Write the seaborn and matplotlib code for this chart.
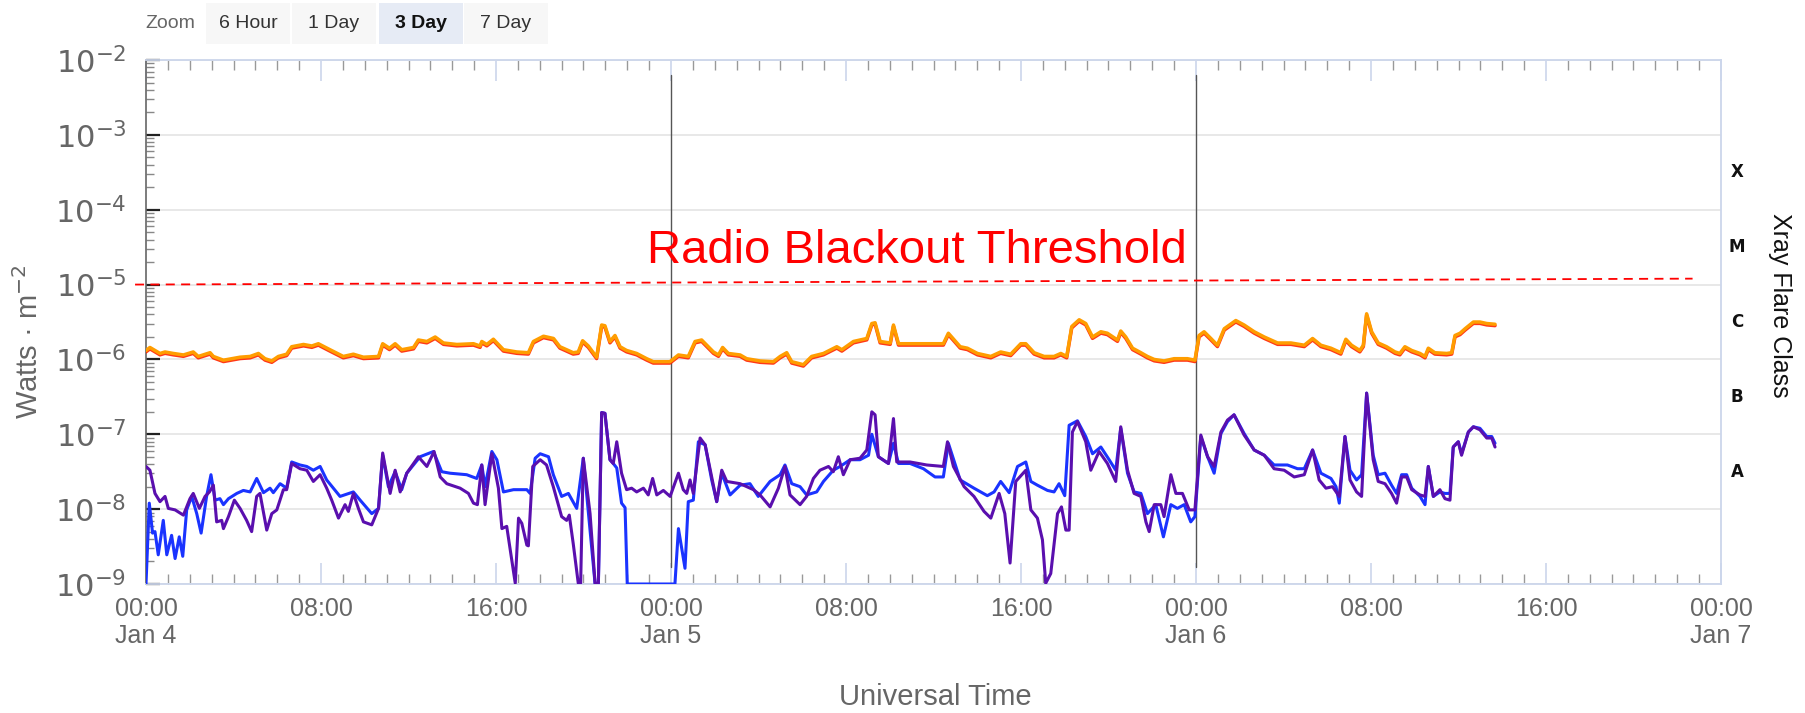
import numpy as np
import pandas as pd
import matplotlib
matplotlib.use("Agg")
import matplotlib.pyplot as plt
import matplotlib.dates as mdates
import matplotlib.ticker as mticker
import matplotlib.patheffects as pe
import matplotlib.transforms as mtransforms
from matplotlib.patches import Rectangle
import seaborn as sns

# ---------------- data (hours after Jan 4 00:00 UT, log10 of W/m^2) ----------------
START = pd.Timestamp("2024-01-04 00:00")

long_hours = [0.00, 0.18, 0.64, 0.87, 1.25, 1.71, 2.16, 2.39, 2.93, 3.08, 3.54, 4.30, 4.76, 5.14, 5.44, 5.75,
              6.05, 6.43, 6.66, 7.20, 7.58, 7.88, 8.41, 9.02, 9.48, 9.94, 10.63, 10.82, 11.13, 11.39, 11.69,
              12.23, 12.45, 12.84, 13.22, 13.60, 14.21, 14.97, 15.27, 15.35, 15.58, 15.88, 16.34, 16.95, 17.48,
              17.71, 18.17, 18.63, 18.92, 19.53, 19.76, 19.96, 20.22, 20.60, 20.83, 20.98, 21.21, 21.44, 21.67,
              21.97, 22.43, 22.89, 23.19, 23.95, 24.34, 24.79, 25.10, 25.40, 25.94, 26.17, 26.36, 26.62, 27.16,
              27.46, 28.07, 28.68, 28.99, 29.29, 29.52, 30.05, 30.43, 30.97, 31.58, 31.81, 32.34, 32.95, 33.18,
              33.33, 33.56, 34.02, 34.17, 34.40, 35.54, 36.45, 36.68, 37.22, 37.55, 38.01, 38.62, 39.07, 39.53,
              39.99, 40.22, 40.60, 41.06, 41.51, 41.82, 42.09, 42.32, 42.66, 42.96, 43.27, 43.65, 43.95, 44.41,
              44.56, 44.79, 45.10, 45.48, 45.78, 46.09, 46.54, 47.00, 47.61, 47.95, 48.14, 48.37, 48.68, 48.98,
              49.29, 49.82, 50.20, 50.66, 51.12, 51.73, 52.34, 52.95, 53.33, 53.71, 54.17, 54.62, 54.85, 55.11,
              55.49, 55.65, 55.80, 56.03, 56.33, 56.71, 57.10, 57.32, 57.55, 57.86, 58.24, 58.47, 58.62, 58.92,
              59.46, 59.69, 59.84, 60.07, 60.30, 60.68, 60.98, 61.29, 61.67]
long_log10 = [-5.88, -5.84, -5.92, -5.90, -5.92, -5.94, -5.90, -5.96, -5.91, -5.96, -6.01, -5.97, -5.96, -5.92,
              -5.99, -6.02, -5.96, -5.93, -5.83, -5.80, -5.82, -5.79, -5.87, -5.96, -5.93, -5.97, -5.96, -5.79,
              -5.85, -5.79, -5.87, -5.84, -5.74, -5.76, -5.70, -5.78, -5.80, -5.79, -5.82, -5.76, -5.80, -5.73,
              -5.87, -5.90, -5.91, -5.76, -5.69, -5.72, -5.83, -5.91, -5.90, -5.75, -5.82, -5.97, -5.54, -5.55,
              -5.76, -5.68, -5.83, -5.88, -5.92, -5.99, -6.03, -6.03, -5.94, -5.96, -5.76, -5.74, -5.90, -5.94,
              -5.84, -5.92, -5.94, -5.99, -6.02, -6.03, -5.96, -5.91, -6.03, -6.07, -5.96, -5.92, -5.83, -5.87,
              -5.76, -5.72, -5.52, -5.51, -5.76, -5.78, -5.54, -5.79, -5.79, -5.79, -5.65, -5.83, -5.85, -5.92,
              -5.96, -5.90, -5.93, -5.79, -5.79, -5.91, -5.96, -5.96, -5.92, -5.96, -5.56, -5.47, -5.52, -5.70,
              -5.63, -5.65, -5.74, -5.62, -5.70, -5.85, -5.91, -5.96, -6.00, -6.02, -5.99, -5.99, -6.01, -5.68,
              -5.63, -5.72, -5.81, -5.59, -5.48, -5.54, -5.63, -5.70, -5.78, -5.78, -5.81, -5.72, -5.81, -5.85,
              -5.91, -5.73, -5.81, -5.88, -5.81, -5.39, -5.63, -5.78, -5.83, -5.90, -5.92, -5.83, -5.88, -5.92,
              -5.96, -5.85, -5.91, -5.92, -5.91, -5.68, -5.65, -5.59, -5.50, -5.50, -5.52, -5.53]

short_a_hours = [0.00, 0.15, 0.30, 0.41, 0.56, 0.79, 0.95, 1.17, 1.33, 1.52, 1.68, 1.86, 2.09, 2.32, 2.52, 2.77,
                 2.97, 3.16, 3.38, 3.54, 3.77, 4.15, 4.45, 4.76, 5.06, 5.37, 5.67, 5.82, 6.13, 6.43, 6.66, 7.04,
                 7.35, 7.65, 7.96, 8.26, 8.87, 9.48, 9.79, 10.32, 10.63, 10.82, 11.08, 11.39, 11.69, 11.92, 12.53,
                 13.14, 13.52, 13.90, 14.66, 15.12, 15.35, 15.50, 15.81, 16.04, 16.34, 16.80, 17.41, 17.56, 17.79,
                 18.02, 18.40, 18.62, 19.00, 19.31, 19.69, 19.99, 20.53, 20.68, 20.83, 20.98, 21.21, 21.36, 21.52,
                 21.74, 21.90, 22.00, 24.18, 24.34, 24.64, 24.79, 25.02, 25.25, 25.56, 25.86, 26.09, 26.32, 26.70,
                 27.16, 27.61, 27.99, 28.53, 28.99, 29.21, 29.52, 29.90, 30.20, 30.66, 30.97, 31.42, 31.73, 32.19,
                 32.64, 33.03, 33.18, 33.48, 33.94, 34.17, 34.40, 34.93, 35.54, 36.07, 36.45, 36.68, 37.22, 37.85,
                 38.46, 38.77, 39.07, 39.46, 39.84, 40.22, 40.45, 40.75, 41.21, 41.51, 41.74, 42.00, 42.20, 42.58,
                 42.96, 43.27, 43.65, 44.03, 44.33, 44.56, 44.87, 45.17, 45.48, 45.78, 46.16, 46.51, 46.85, 47.15,
                 47.46, 47.76, 47.95, 48.22, 48.53, 48.83, 49.14, 49.44, 49.74, 50.20, 50.66, 51.12, 51.57, 52.18,
                 52.64, 52.95, 53.33, 53.71, 54.17, 54.40, 54.55, 54.81, 55.04, 55.34, 55.57, 55.80, 56.10, 56.33,
                 56.64, 56.94, 57.17, 57.40, 57.63, 57.86, 58.24, 58.47, 58.62, 58.85, 59.15, 59.38, 59.61, 59.76,
                 59.99, 60.14, 60.45, 60.68, 60.98, 61.29, 61.52, 61.67]
short_a_log10 = [-9.00, -7.92, -8.32, -8.30, -8.61, -8.15, -8.61, -8.35, -8.66, -8.37, -8.63, -8.01, -7.83, -8.06,
                 -8.32, -7.83, -7.54, -7.88, -7.86, -7.94, -7.86, -7.79, -7.75, -7.77, -7.59, -7.78, -7.72, -7.78,
                 -7.66, -7.72, -7.37, -7.41, -7.43, -7.48, -7.43, -7.61, -7.83, -7.77, -7.88, -8.06, -7.99, -7.28,
                 -7.70, -7.50, -7.74, -7.52, -7.30, -7.23, -7.50, -7.52, -7.54, -7.59, -7.41, -7.70, -7.23, -7.34,
                 -7.77, -7.74, -7.74, -7.79, -7.32, -7.26, -7.30, -7.54, -7.83, -7.79, -7.99, -7.32, -9.00, -9.00,
                 -6.71, -6.72, -7.34, -7.39, -7.45, -7.92, -7.98, -9.00, -9.00, -8.26, -8.79, -7.90, -7.88, -7.10,
                 -7.14, -7.61, -7.90, -7.52, -7.81, -7.68, -7.66, -7.83, -7.63, -7.54, -7.41, -7.66, -7.70, -7.81,
                 -7.77, -7.63, -7.48, -7.43, -7.34, -7.34, -7.28, -7.00, -7.30, -7.39, -7.12, -7.39, -7.39, -7.46,
                 -7.57, -7.57, -7.12, -7.61, -7.72, -7.82, -7.77, -7.63, -7.78, -7.43, -7.37, -7.63, -7.68, -7.75,
                 -7.77, -7.66, -7.82, -6.88, -6.82, -7.03, -7.26, -7.17, -7.34, -7.48, -6.92, -7.52, -7.77, -7.79,
                 -8.06, -7.94, -8.37, -7.94, -7.99, -7.94, -8.17, -8.10, -7.03, -7.30, -7.52, -6.99, -6.83, -6.74,
                 -6.99, -7.21, -7.28, -7.41, -7.41, -7.46, -7.46, -7.21, -7.52, -7.59, -7.70, -7.92, -7.03, -7.48,
                 -7.61, -7.54, -6.45, -7.28, -7.54, -7.52, -7.68, -7.79, -7.54, -7.54, -7.72, -7.83, -7.94, -7.43,
                 -7.83, -7.77, -7.79, -7.79, -7.17, -7.10, -7.26, -6.97, -6.90, -6.92, -7.03, -7.03, -7.12]

short_b_hours = [0.00, 0.18, 0.41, 0.64, 0.87, 1.02, 1.33, 1.71, 2.01, 2.16, 2.44, 2.70, 2.90, 3.08, 3.23, 3.46,
                 3.54, 3.77, 4.04, 4.30, 4.60, 4.83, 5.06, 5.21, 5.52, 5.75, 5.98, 6.28, 6.43, 6.66, 7.04, 7.35,
                 7.65, 7.96, 8.26, 8.49, 8.80, 9.10, 9.25, 9.48, 9.71, 9.94, 10.32, 10.63, 10.82, 11.16, 11.39,
                 11.62, 11.92, 12.45, 12.84, 13.17, 13.45, 13.75, 14.36, 14.74, 14.97, 15.15, 15.35, 15.50, 15.81,
                 16.11, 16.27, 16.49, 16.88, 17.03, 17.18, 17.41, 17.48, 17.68, 18.02, 18.31, 18.62, 19.00, 19.23,
                 19.35, 19.53, 19.76, 19.87, 19.99, 20.30, 20.53, 20.68, 20.83, 20.98, 21.21, 21.36, 21.52, 21.74,
                 21.97, 22.20, 22.43, 22.74, 22.96, 23.16, 23.35, 23.65, 23.96, 24.34, 24.56, 24.72, 24.87, 25.02,
                 25.33, 25.56, 25.86, 26.09, 26.32, 26.55, 27.16, 27.77, 28.07, 28.53, 28.91, 29.21, 29.44, 29.90,
                 30.20, 30.51, 30.81, 31.20, 31.42, 31.65, 31.88, 32.19, 32.64, 32.95, 33.18, 33.33, 33.48, 33.94,
                 34.17, 34.32, 34.93, 35.69, 36.45, 36.64, 36.91, 37.40, 37.85, 38.31, 38.62, 39.00, 39.26, 39.50,
                 39.76, 40.22, 40.45, 40.75, 40.98, 41.13, 41.36, 41.67, 41.85, 42.05, 42.20, 42.35, 42.58, 42.96,
                 43.19, 43.57, 43.95, 44.33, 44.56, 44.87, 45.17, 45.48, 45.71, 45.86, 46.09, 46.39, 46.54, 46.85,
                 47.08, 47.38, 47.69, 47.95, 48.22, 48.53, 48.83, 49.14, 49.44, 49.74, 50.20, 50.66, 51.12, 51.57,
                 52.03, 52.49, 52.95, 53.33, 53.63, 53.94, 54.24, 54.55, 54.81, 55.04, 55.34, 55.57, 55.80, 56.10,
                 56.33, 56.64, 56.94, 57.17, 57.40, 57.63, 57.86, 58.24, 58.47, 58.62, 58.85, 59.15, 59.38, 59.61,
                 59.76, 59.99, 60.14, 60.45, 60.68, 60.98, 61.29, 61.52, 61.67]
short_b_log10 = [-7.43, -7.48, -7.79, -7.90, -7.83, -7.99, -8.01, -8.08, -7.86, -7.79, -7.99, -7.83, -7.77, -7.68,
                 -8.17, -8.15, -8.26, -8.10, -7.88, -7.99, -8.15, -8.30, -7.83, -7.79, -8.28, -8.06, -8.01, -7.74,
                 -7.74, -7.39, -7.46, -7.48, -7.63, -7.54, -7.72, -7.88, -8.12, -7.94, -8.03, -7.79, -7.99, -8.17,
                 -8.21, -7.99, -7.25, -7.79, -7.48, -7.77, -7.52, -7.30, -7.43, -7.23, -7.57, -7.66, -7.72, -7.79,
                 -7.92, -7.94, -7.41, -7.94, -7.26, -7.72, -8.26, -8.23, -8.99, -8.12, -8.19, -8.48, -8.49, -7.43,
                 -7.34, -7.41, -7.70, -8.10, -8.15, -8.08, -8.46, -8.99, -8.99, -7.32, -8.06, -8.99, -8.99, -6.71,
                 -6.72, -7.34, -7.39, -7.10, -7.52, -7.74, -7.72, -7.77, -7.72, -7.81, -7.59, -7.81, -7.75, -7.83,
                 -7.52, -7.74, -7.79, -7.61, -7.79, -7.05, -7.14, -7.57, -7.90, -7.48, -7.63, -7.66, -7.74, -7.81,
                 -7.97, -7.72, -7.43, -7.81, -7.94, -7.83, -7.59, -7.48, -7.43, -7.50, -7.30, -7.54, -7.34, -7.32,
                 -7.21, -6.70, -6.74, -7.30, -7.39, -6.79, -7.37, -7.37, -7.41, -7.43, -7.10, -7.43, -7.70, -7.83,
                 -8.03, -8.12, -7.79, -8.06, -8.72, -7.63, -7.48, -8.01, -8.12, -8.41, -8.99, -8.86, -8.06, -7.97,
                 -8.28, -8.28, -6.97, -6.83, -7.10, -7.48, -7.23, -7.39, -7.63, -6.90, -7.48, -7.79, -7.83, -8.17,
                 -8.30, -7.94, -7.94, -8.10, -7.54, -7.79, -7.79, -8.01, -8.01, -7.01, -7.30, -7.43, -6.97, -6.81,
                 -6.74, -7.01, -7.21, -7.28, -7.46, -7.48, -7.57, -7.54, -7.21, -7.61, -7.72, -7.70, -7.83, -7.03,
                 -7.61, -7.77, -7.83, -6.45, -7.34, -7.63, -7.66, -7.79, -7.92, -7.57, -7.57, -7.74, -7.81, -7.83,
                 -7.43, -7.83, -7.74, -7.86, -7.88, -7.17, -7.10, -7.28, -6.97, -6.90, -6.94, -7.05, -7.05, -7.17]

threshold_flux = [1.0e-5, 1.2e-5]           # dashed line (left end, right end)
threshold_hours = [-0.5, 70.7]
threshold_label = "Radio Blackout Threshold"
day_marker_hours = [24, 48]
flare_classes = ["X", "M", "C", "B", "A"]
flare_class_log10 = [-3.5, -4.5, -5.5, -6.5, -7.5]
zoom_buttons = ["6 Hour", "1 Day", "3 Day", "7 Day"]
zoom_selected = "3 Day"


def to_time(hours):
    return START + pd.to_timedelta(np.asarray(hours, dtype=float), unit="h")


df_long = pd.DataFrame({"time": to_time(long_hours), "flux": 10 ** np.array(long_log10)})
df_a = pd.DataFrame({"time": to_time(short_a_hours), "flux": 10 ** np.array(short_a_log10)})
df_b = pd.DataFrame({"time": to_time(short_b_hours), "flux": 10 ** np.array(short_b_log10)})

# ---------------- style ----------------
sns.set_theme(style="white")
plt.rcParams["font.family"] = ["DejaVu Sans"]
SANS = ["Liberation Sans", "DejaVu Sans"]
GRAY = "#666666"

W, H = 1806, 713
fig = plt.figure(figsize=(W / 100, H / 100), dpi=100)
fig.patch.set_facecolor("white")
L_PX, R_PX, T_PX, B_PX = 146, 1721, 60, 584
ax = fig.add_axes([L_PX / W, 1 - B_PX / H, (R_PX - L_PX) / W, (B_PX - T_PX) / H])
ax.set_facecolor("white")

# ---------------- series ----------------
sns.lineplot(data=df_long, x="time", y="flux", ax=ax, color="#ff9d00", linewidth=2.5,
             estimator=None, sort=False, zorder=4,
             path_effects=[pe.SimpleLineShadow(offset=(0, -1.0), shadow_color="#ff2200", alpha=0.9),
                           pe.Normal()])
sns.lineplot(data=df_a, x="time", y="flux", ax=ax, color="#1a33ff", linewidth=2.2,
             estimator=None, sort=False, zorder=4)
sns.lineplot(data=df_b, x="time", y="flux", ax=ax, color="#5a0fae", linewidth=2.2,
             estimator=None, sort=False, zorder=5)

ax.set_yscale("log")
ax.set_ylim(1e-9, 1e-2)
ax.set_xlim(START, START + pd.Timedelta(days=3))

# day separators
for h in day_marker_hours:
    ax.axvline(to_time([h])[0], ymin=0.032, ymax=0.971, color="#555555", lw=1.0, zorder=3)

# threshold
ax.plot(to_time(threshold_hours), threshold_flux, color="#ff0000", lw=1.3,
        ls=(0, (5, 3.5)), clip_on=False, zorder=6)
ax.text(to_time([22.9])[0], 1.94e-5, threshold_label, color="#ff0000", fontsize=34,
        family=SANS, va="baseline", ha="left", zorder=7)

# ---------------- axes styling ----------------
ax.yaxis.set_major_locator(mticker.LogLocator(base=10, numticks=12))
ax.yaxis.set_minor_locator(mticker.LogLocator(base=10, subs=np.arange(2, 10), numticks=12))
ax.yaxis.set_minor_formatter(mticker.NullFormatter())
ax.yaxis.grid(True, which="major", color="#e6e6e6", lw=1.3)
ax.xaxis.grid(False)
ax.tick_params(axis="y", which="major", direction="in", length=10, width=1.6, color="#222222",
               labelsize=22, labelcolor=GRAY, pad=14, left=True, right=False)
ax.tick_params(axis="y", which="minor", direction="in", length=6, width=1.0, color="#888888",
               left=True, right=False)

ax.xaxis.set_major_locator(mdates.HourLocator(byhour=[0, 8, 16]))
ax.xaxis.set_minor_locator(mdates.HourLocator())


def fmt_time(x, pos):
    d = mdates.num2date(x)
    s = d.strftime("%H:%M")
    if d.hour == 0:
        s += "\n" + d.strftime("%b") + " " + str(d.day)
    return s


ax.xaxis.set_major_formatter(mticker.FuncFormatter(fmt_time))
ax.tick_params(axis="x", which="major", direction="in", length=15, width=1.2, color="#ccd6eb",
               labelsize=18, labelcolor=GRAY, pad=9, top=True, bottom=True)
ax.tick_params(axis="x", which="minor", direction="in", length=7, width=1.0, color="#999999",
               top=True, bottom=True)
for lbl in ax.get_xticklabels():
    lbl.set_family(SANS)

ax.set_xlabel("")
ax.set_ylabel("")
for side in ["top", "right", "bottom"]:
    ax.spines[side].set_color("#ccd6eb")
    ax.spines[side].set_linewidth(1.3)
ax.spines["left"].set_color("#666666")
ax.spines["left"].set_linewidth(1.2)

# flare class labels on the right
trans = mtransforms.blended_transform_factory(ax.transAxes, ax.transData)
for cls, lv in zip(flare_classes, flare_class_log10):
    ax.text((1737 - L_PX) / (R_PX - L_PX), 10 ** lv, cls, transform=trans, fontsize=12,
            fontweight="bold", color="#111111", ha="center", va="center")

fig.text(1780 / W, 1 - 305 / H, "Xray Flare Class", rotation=270, ha="center", va="center",
         fontsize=18, color="#111111", family=SANS)
fig.text(29 / W, 1 - 342 / H, "Watts \u00b7 m$^{-2}$", rotation=90, ha="center", va="center",
         fontsize=21, color=GRAY, family=SANS)
fig.text(935 / W, 1 - 697 / H, "Universal Time", ha="center", va="center",
         fontsize=21, color=GRAY, family=SANS)

# zoom buttons
fig.text(145 / W, 1 - 23 / H, "Zoom", ha="left", va="center", fontsize=14, color=GRAY, family=SANS)
btn_left = [206, 292, 379, 464]
for name, x0 in zip(zoom_buttons, btn_left):
    sel = name == zoom_selected
    fig.patches.append(Rectangle((x0 / W, 1 - 44 / H), 84 / W, 41 / H, transform=fig.transFigure,
                                 facecolor="#e6ebf5" if sel else "#f7f7f7", edgecolor="none", zorder=0))
    fig.text((x0 + 42) / W, 1 - 23 / H, name, ha="center", va="center", fontsize=14,
             color="#111111" if sel else "#333333", fontweight="bold" if sel else "normal", family=SANS)

fig.savefig("out.png", dpi=100, facecolor="white")
